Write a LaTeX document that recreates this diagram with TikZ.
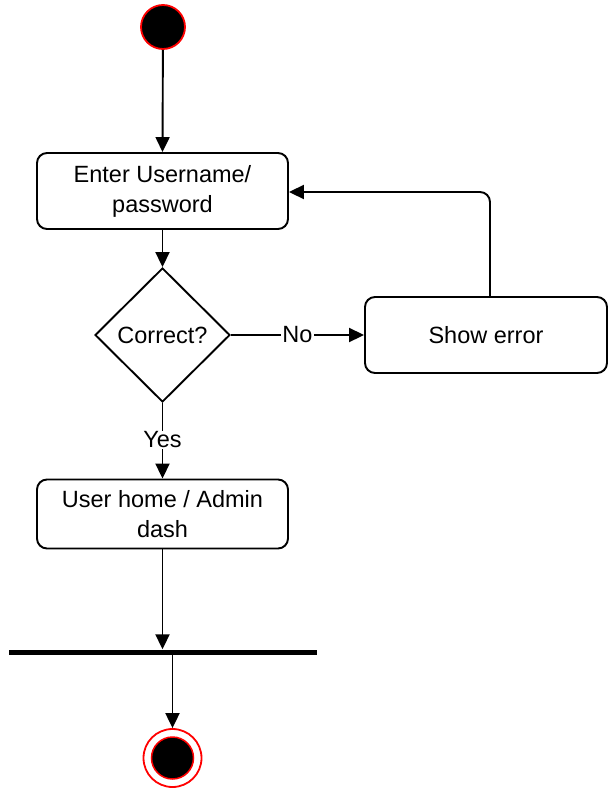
\documentclass[tikz,border=0pt]{standalone}
\usepackage{fontspec}
\setmainfont{Liberation Sans}
\usetikzlibrary{shapes.geometric,arrows.meta,positioning,calc}
\begin{document}
\begin{tikzpicture}[x=1pt,y=-1pt,
  every node/.style={font=\fontsize{23.5}{30}\selectfont},
  act/.style={draw, line width=1.9pt, rounded corners=10pt, align=center, inner sep=0pt},
  arr/.style={-{Triangle[length=15pt,width=14pt]}, line width=1.9pt},
  lbl/.style={fill=white, inner sep=1pt}
]
\useasboundingbox (0,0) rectangle (608,790);
% start
\node[circle, fill=black, draw=red, line width=1.8pt, minimum size=44pt, inner sep=0pt] (start) at (163,27) {};
% activities
\node[act, minimum width=251pt, minimum height=76pt] (enter) at (162.5,191) {Enter Username/\\password};
\node[diamond, draw, line width=1.9pt, minimum width=135pt, minimum height=134pt, inner sep=0pt] (dia) at (162.5,335) {Correct?};
\node[act, minimum width=242pt, minimum height=76pt] (err) at (486,335) {Show error};
\node[act, minimum width=251pt, minimum height=69pt] (home) at (162.5,514) {User home / Admin\\dash};
% join bar
\node[fill=black, minimum width=308pt, minimum height=5pt, inner sep=0pt] (bar) at (163,652) {};
% end
\node[circle, draw=red, line width=1.8pt, minimum size=58pt, inner sep=0pt] (endo) at (172.5,758) {};
\node[circle, fill=black, draw=red, line width=1.5pt, minimum size=42pt, inner sep=0pt] (endi) at (172.5,758) {};
% connectors
\draw[arr] (start) -- (enter.north);
\draw[arr] (enter.south) -- (dia.north);
\draw[arr] (dia.east) -- node[lbl, pos=0.5] {No} (err.west);
\draw[arr] (dia.south) -- node[lbl, pos=0.49] {Yes} (home.north);
\coordinate (loopstart) at ([xshift=4pt]err.north);
\draw[arr, rounded corners=10pt] (loopstart) |- ([yshift=-1pt]enter.east);
\draw[arr] (home.south) -- (home.south |- bar.north);
\coordinate (barout) at (172.5,652);
\draw[arr] (barout) -- (endo.north);
\end{tikzpicture}
\end{document}
